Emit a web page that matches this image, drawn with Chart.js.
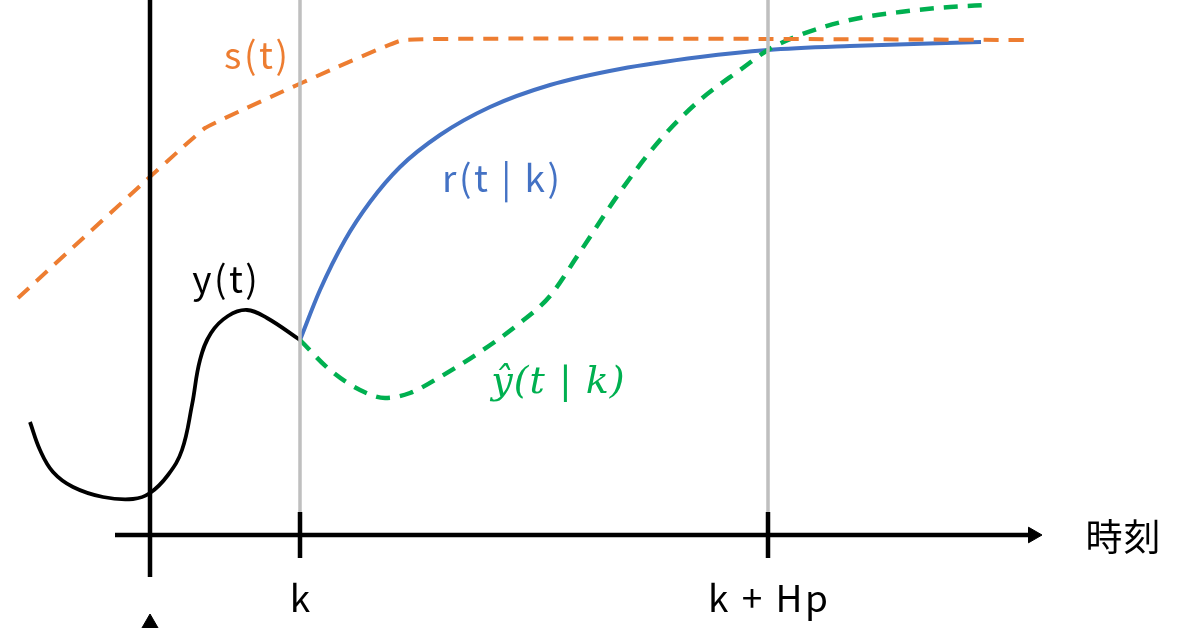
<!DOCTYPE html>
<html>
<head>
<meta charset="utf-8">
<script src="https://cdn.jsdelivr.net/npm/chart.js@4/dist/chart.umd.min.js"></script>
<style>
  html, body { margin: 0; padding: 0; background: #fff; }
  #wrap { width: 1200px; height: 628px; }
</style>
</head>
<body>
<div id="wrap"><canvas id="mpcChart" width="1200" height="628"></canvas></div>
<script>
// setpoint s(t)
var sX = [18, 205, 403, 1031];
var sY = [298, 128, 40, 40];
// reference trajectory r(t|k)
var rX = [300, 320, 345, 370, 400, 440, 490, 550, 620, 700, 768, 850, 981];
var rY = [340, 290, 240, 202, 167, 135, 107, 85, 69, 57, 50, 46, 42];
// predicted output y^(t|k)
var pX = [300, 330, 360, 385, 410, 440, 480, 520, 550, 580, 620, 660, 700, 740, 768, 800, 850, 900, 950, 987];
var pY = [340, 370, 390, 398, 393, 377, 352, 323, 296, 252, 192, 140, 100, 70, 50, 35, 20, 12, 7, 5];
// measured output y(t)
var yX = [30, 40, 53, 73, 103, 133, 150, 168, 182, 192, 200, 211, 228, 247, 267, 300];
var yY = [422, 450, 472, 487, 497, 499, 493, 475, 450, 405, 360, 333, 316, 310, 318, 340];

// time axis
var tickValues = [300, 768];
var tickLabels = ['k', 'k + Hp'];
var axisY = 535;
var originX = 150;

function pts(xs, ys) {
    return xs.map(function (x, i) { return { x: x, y: ys[i] }; });
}

function seg(x1, y1, x2, y2, color, width) {
    return {
        data: [{ x: x1, y: y1 }, { x: x2, y: y2 }],
        borderColor: color, borderWidth: width,
        pointRadius: 0, tension: 0, fill: false
    };
}

var datasets = [];

// gray guide lines
tickValues.forEach(function (v) {
    datasets.push(seg(v, 0, v, 512, '#BFBFBF', 3.5));
});

// axes
datasets.push(seg(115, axisY, 1030, axisY, '#000', 4.5));
datasets.push(seg(originX, 0, originX, 577, '#000', 4.5));
tickValues.forEach(function (v) {
    datasets.push(seg(v, 512, v, 558, '#000', 4.5));
});

// arrow heads
datasets.push({
    type: 'scatter',
    data: [{ x: 1033, y: axisY }],
    pointStyle: 'triangle', rotation: 90, pointRadius: 9,
    backgroundColor: '#000', borderColor: '#000', borderWidth: 1, clip: false
});
datasets.push({
    type: 'scatter',
    data: [{ x: originX, y: 624 }],
    pointStyle: 'triangle', rotation: 0, pointRadius: 10,
    backgroundColor: '#000', borderColor: '#000', borderWidth: 1, clip: false
});

// curves
datasets.push({
    data: pts(sX, sY), borderColor: '#ED7D31', borderWidth: 4,
    borderDash: [15, 10], pointRadius: 0, tension: 0.05, fill: false
});
datasets.push({
    data: pts(yX, yY), borderColor: '#000', borderWidth: 3.8,
    pointRadius: 0, tension: 0.4, fill: false
});
datasets.push({
    data: pts(pX, pY), borderColor: '#00B050', borderWidth: 4.5,
    borderDash: [14, 10], pointRadius: 0, cubicInterpolationMode: 'monotone', fill: false
});
datasets.push({
    data: pts(rX, rY), borderColor: '#4472C4', borderWidth: 4,
    pointRadius: 0, cubicInterpolationMode: 'monotone', fill: false
});

var labelFont = '"Noto Sans CJK JP", "Noto Sans", sans-serif';

// text labels drawn at data coordinates
var textPlugin = {
    id: 'textLabels',
    afterDatasetsDraw: function (chart) {
        var ctx = chart.ctx;
        var xs = chart.scales.x, ys = chart.scales.y;
        function put(txt, x, y, color, font, spacing) {
            ctx.save();
            ctx.fillStyle = color;
            ctx.font = font;
            ctx.letterSpacing = (spacing || 0) + 'px';
            ctx.textAlign = 'center';
            ctx.textBaseline = 'middle';
            ctx.fillText(txt, xs.getPixelForValue(x) + (spacing || 0) / 2, ys.getPixelForValue(y));
            ctx.restore();
        }
        put('s(t)', 256, 55, '#ED7D31', '37px ' + labelFont, 2.5);
        put('r(t | k)', 501, 178, '#4472C4', '37px ' + labelFont, 2.5);
        put('y(t)', 225, 279, '#000', '37px ' + labelFont, 2.5);
        put('ŷ(t | k)', 558, 383, '#00B050', 'italic 38px "DejaVu Serif", serif', 1);
        put('時刻', 1123, 537, '#000', '37px ' + labelFont, 1);
        tickValues.forEach(function (v, i) {
            put(tickLabels[i], v, 598, '#000', '37px ' + labelFont, 2.5);
        });
    }
};

var ctx = document.getElementById('mpcChart').getContext('2d');
var mpcChart = new Chart(ctx, {
    type: 'line',
    data: { datasets: datasets },
    options: {
        responsive: false,
        animation: false,
        events: [],
        layout: { padding: 0, autoPadding: false },
        plugins: {
            legend: { display: false },
            tooltip: { enabled: false }
        },
        scales: {
            x: { type: 'linear', min: 0, max: 1200, display: false },
            y: { type: 'linear', min: 0, max: 628, reverse: true, display: false }
        }
    },
    plugins: [textPlugin]
});
</script>
</body>
</html>
